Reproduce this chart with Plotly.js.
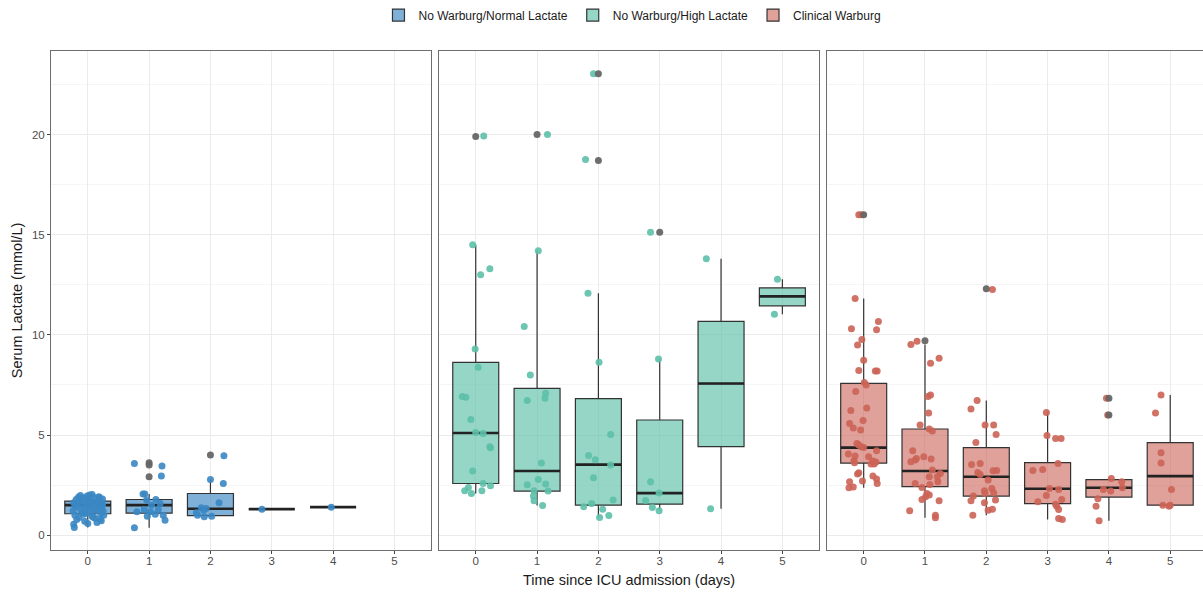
<!DOCTYPE html>
<html>
<head>
<meta charset="utf-8">
<script src="https://cdn.plot.ly/plotly-3.0.1.min.js"></script>
<style>
html, body { margin: 0; padding: 0; overflow: hidden; background: #fff; }
#chart { width: 1208px; height: 592px; }
</style>
</head>
<body>
<div id="chart"></div>
<script>
// ---------------- DATA ----------------
const groupNames = ["No Warburg/Normal Lactate", "No Warburg/High Lactate", "Clinical Warburg"];
const dayTicks = [0, 1, 2, 3, 4, 5];

// Box summaries
const normDays = [0, 1, 2, 3, 4];
const normQ1  = [1.07, 1.10, 0.98, 1.30, 1.40];
const normMed = [1.50, 1.50, 1.32, 1.30, 1.40];
const normQ3  = [1.70, 1.78, 2.08, 1.30, 1.40];
const normLo  = [0.38, 0.37, 0.92, 1.30, 1.40];
const normHi  = [2.03, 2.05, 2.78, 1.30, 1.40];

const highDays = [0, 1, 2, 3, 4, 5];
const highQ1  = [2.58, 2.20, 1.50, 1.55, 4.42, 11.45];
const highMed = [5.10, 3.20, 3.52, 2.10, 7.57, 11.92];
const highQ3  = [8.63, 7.33, 6.82, 5.75, 10.67, 12.35];
const highLo  = [2.08, 1.48, 0.88, 1.22, 1.32, 11.03];
const highHi  = [14.50, 14.20, 12.08, 8.80, 13.80, 12.78];

const warbDays = [0, 1, 2, 3, 4, 5];
const warbQ1  = [3.60, 2.42, 1.95, 1.58, 1.90, 1.50];
const warbMed = [4.37, 3.20, 2.92, 2.32, 2.37, 2.95];
const warbQ3  = [7.58, 5.30, 4.37, 3.62, 2.77, 4.62];
const warbLo  = [2.37, 0.87, 1.00, 0.78, 0.72, 1.45];
const warbHi  = [11.81, 9.52, 6.72, 6.13, 2.83, 7.00];

// Box-plot outliers: [day, value]
const normOutliers = [[1, 3.62], [1, 3.50], [1, 2.92], [2, 4.00]];
const highOutliers = [[0, 19.90], [1, 20.00], [2, 23.03], [2, 18.70], [3, 15.12]];
const warbOutliers = [[0, 16.00], [1, 9.70], [2, 12.30], [4, 6.83], [4, 6.00]];

// Jittered observations: [day, jitter, value]
const normPoints = [
  [0,-0.22,0.38],[0,-0.23,0.55],[0,-0.18,0.78],[0,-0.21,1.00],[0,-0.24,1.22],[0,-0.20,1.45],[0,-0.23,1.62],[0,-0.19,1.78],
  [0,-0.15,1.90],[0,-0.12,1.98],[0,-0.14,0.88],[0,-0.10,1.12],[0,-0.13,1.35],[0,-0.09,1.55],[0,-0.11,1.72],[0,-0.06,1.85],
  [0,-0.05,0.70],[0,-0.07,1.05],[0,-0.04,1.28],[0,-0.03,1.60],[0,-0.01,1.95],[0,0.00,0.58],[0,0.01,1.42],[0,0.02,1.75],
  [0,0.03,2.00],[0,0.05,1.15],[0,0.06,1.52],[0,0.07,0.95],[0,0.07,2.03],[0,0.09,1.62],[0,0.10,1.88],[0,0.11,1.30],
  [0,0.12,0.85],[0,0.14,1.68],[0,0.15,1.25],[0,0.15,0.63],[0,0.17,1.48],[0,0.18,1.92],[0,0.19,1.88],[0,0.20,0.80],
  [0,0.20,1.75],[0,0.21,1.08],[0,0.22,1.38],[0,0.23,1.58],[0,0.24,1.50],[0,0.25,1.20],[0,0.26,1.00],[0,0.24,1.80],
  [0,0.22,0.72],[0,-0.16,1.58],[0,-0.08,1.78],[0,0.04,1.68],[0,0.13,1.45],[0,-0.02,1.10],[0,0.09,0.90],
  [1,-0.24,3.58],[1,0.21,3.45],[1,0.20,2.95],[1,-0.10,2.05],[1,-0.07,2.05],[1,0.11,1.78],[1,-0.04,1.75],[1,-0.20,1.17],
  [1,0.18,1.58],[1,0.04,1.50],[1,-0.08,1.28],[1,0.02,1.17],[1,0.10,1.05],[1,-0.03,0.95],[1,0.23,1.00],[1,0.26,0.75],
  [1,-0.24,0.37],[1,0.15,1.28],
  [2,0.22,3.97],[2,0.00,2.78],[2,0.21,2.58],[2,0.14,1.62],[2,-0.15,1.37],[2,-0.11,1.25],[2,-0.23,1.12],[2,-0.21,1.00],
  [2,-0.10,0.92],[2,0.02,0.95],[2,-0.07,1.33],
  [3,-0.16,1.30],
  [4,-0.03,1.40]
];
const highPoints = [
  [0,0.13,19.93],[0,-0.05,14.50],[0,0.08,13.00],[0,0.23,13.30],[0,-0.01,9.30],[0,0.04,8.38],[0,-0.22,6.92],[0,-0.16,6.88],
  [0,-0.08,5.78],[0,0.00,5.13],[0,0.12,5.07],[0,0.23,4.42],[0,0.24,4.37],[0,-0.05,3.20],[0,0.12,2.58],[0,0.24,2.47],
  [0,-0.12,2.38],[0,-0.18,2.22],[0,-0.07,2.08],[0,0.10,2.22],
  [1,0.17,20.00],[1,0.02,14.20],[1,-0.21,10.42],[1,-0.11,8.00],[1,-0.16,6.72],[1,0.14,7.08],[1,0.13,6.83],[1,0.07,3.60],
  [1,0.02,2.78],[1,-0.16,2.52],[1,0.14,2.55],[1,-0.05,2.22],[1,0.18,2.20],[1,-0.06,1.95],[1,-0.05,1.72],[1,0.09,1.48],
  [2,-0.08,23.03],[2,-0.21,18.75],[2,-0.17,12.08],[2,0.01,8.63],[2,0.20,5.02],[2,-0.16,3.98],[2,-0.05,3.77],[2,0.20,3.50],
  [2,-0.08,2.87],[2,0.24,1.75],[2,-0.24,1.42],[2,-0.11,1.58],[2,0.07,1.30],[2,0.02,0.88],[2,0.17,0.98],
  [3,-0.15,15.12],[3,-0.02,8.80],[3,-0.15,2.67],[3,-0.01,2.10],[3,-0.23,1.73],[3,-0.12,1.38],[3,-0.01,1.22],
  [4,-0.24,13.80],[4,-0.17,1.32],
  [5,-0.08,12.78],[5,-0.13,11.03]
];
const warbPoints = [
  [0,-0.08,16.00],[0,-0.04,16.00],[0,-0.14,11.81],[0,0.24,10.67],[0,-0.20,10.30],[0,0.21,10.25],[0,-0.03,9.77],[0,-0.10,9.49],
  [0,0.00,8.73],[0,-0.08,8.22],[0,0.19,8.19],[0,0.22,8.19],[0,0.01,7.62],[0,0.04,7.50],[0,-0.13,7.17],[0,0.05,6.35],
  [0,-0.21,6.22],[0,-0.01,5.72],[0,-0.23,5.57],[0,-0.17,5.35],[0,-0.05,5.25],[0,-0.11,4.58],[0,-0.08,4.50],[0,-0.04,4.42],
  [0,0.00,4.38],[0,-0.25,4.05],[0,-0.14,3.95],[0,-0.16,3.72],[0,0.08,3.92],[0,0.21,4.22],[0,0.15,3.70],[0,0.20,3.65],
  [0,0.17,3.55],[0,-0.15,3.62],[0,0.12,3.55],[0,-0.08,3.12],[0,-0.10,3.05],[0,0.15,2.95],[0,0.21,2.80],[0,0.22,2.58],
  [0,-0.23,2.67],[0,-0.02,2.70],[0,-0.24,2.37],[0,-0.17,2.40],
  [1,-0.23,9.52],[1,-0.13,9.68],[1,0.09,8.58],[1,0.23,8.83],[1,0.09,7.00],[1,0.05,6.92],[1,0.06,6.10],[1,-0.08,5.50],
  [1,0.07,5.30],[1,0.12,5.20],[1,-0.20,4.22],[1,-0.23,3.67],[1,-0.14,3.83],[1,-0.16,3.75],[1,-0.02,3.92],[1,0.10,3.80],
  [1,0.12,3.25],[1,0.25,3.08],[1,0.07,2.92],[1,0.20,2.92],[1,0.21,2.67],[1,-0.16,2.58],[1,-0.05,2.38],[1,0.08,2.53],
  [1,0.03,2.08],[1,0.07,2.00],[1,0.01,1.92],[1,-0.05,1.78],[1,0.23,1.72],[1,-0.25,1.22],[1,0.17,1.00],[1,0.17,0.87],
  [2,0.10,12.27],[2,-0.15,6.72],[2,-0.25,6.30],[2,-0.02,5.50],[2,0.12,5.50],[2,0.16,5.03],[2,-0.17,4.63],[2,-0.24,3.53],
  [2,-0.10,3.58],[2,-0.14,3.13],[2,-0.10,3.03],[2,0.03,2.75],[2,0.11,3.22],[2,0.17,3.23],[2,-0.03,2.22],[2,0.09,2.33],
  [2,-0.02,2.08],[2,0.12,2.12],[2,-0.21,1.95],[2,-0.25,1.72],[2,0.15,1.75],[2,-0.03,1.62],[2,-0.22,1.00],[2,0.03,1.25],
  [2,0.10,1.30],
  [3,-0.02,6.13],[3,-0.01,4.97],[3,0.13,4.82],[3,0.22,4.82],[3,0.17,3.58],[3,-0.24,3.23],[3,-0.08,3.28],[3,0.03,2.33],
  [3,0.18,2.28],[3,-0.02,1.98],[3,0.23,1.78],[3,-0.16,1.67],[3,0.13,1.55],[3,0.15,1.45],[3,0.18,1.28],[3,0.18,0.83],
  [3,0.24,0.78],
  [4,-0.04,6.83],[4,-0.02,6.00],[4,0.04,2.83],[4,0.21,2.67],[4,0.22,2.37],[4,-0.09,2.28],[4,0.03,2.20],[4,-0.18,1.82],
  [4,-0.21,1.45],[4,-0.16,0.72],
  [5,-0.15,7.00],[5,-0.24,6.10],[5,-0.15,4.12],[5,-0.15,3.60],[5,0.02,2.28],[5,-0.12,1.50],[5,-0.02,1.45],[5,0.00,1.50]
];

// ---------------- STYLE ----------------
const pointColors = ["#3a87c3", "#5cc0a8", "#cc6357"];
const fillColors  = ["rgba(58,135,195,0.65)", "rgba(92,192,168,0.65)", "rgba(204,99,87,0.6)"];
const boxWidth = 0.75;
const axisNames = ["x", "x2", "x3"];
const yNames = ["y", "y2", "y3"];

const groups = [
  {days: normDays, q1: normQ1, med: normMed, q3: normQ3, lo: normLo, hi: normHi, out: normOutliers, pts: normPoints},
  {days: highDays, q1: highQ1, med: highMed, q3: highQ3, lo: highLo, hi: highHi, out: highOutliers, pts: highPoints},
  {days: warbDays, q1: warbQ1, med: warbMed, q3: warbQ3, lo: warbLo, hi: warbHi, out: warbOutliers, pts: warbPoints}
];

const boxTraces = [], medTraces = [], ptTraces = [], outTraces = [];
groups.forEach((g, i) => {
  boxTraces.push({
    type: "box", name: groupNames[i], xaxis: axisNames[i], yaxis: yNames[i],
    x: g.days, q1: g.q1, median: g.med, q3: g.q3, lowerfence: g.lo, upperfence: g.hi,
    width: boxWidth, whiskerwidth: 0, boxpoints: false,
    fillcolor: fillColors[i], line: {color: "#333333", width: 1.2},
    marker: {color: pointColors[i]}, hoverinfo: "skip", showlegend: true
  });
  const mx = [], my = [];
  g.days.forEach((d, k) => { mx.push(d - boxWidth / 2, d + boxWidth / 2, null); my.push(g.med[k], g.med[k], null); });
  medTraces.push({
    type: "scatter", mode: "lines", xaxis: axisNames[i], yaxis: yNames[i],
    x: mx, y: my, line: {color: "#222222", width: 2.6}, showlegend: false, hoverinfo: "skip"
  });
  ptTraces.push({
    type: "scatter", mode: "markers", xaxis: axisNames[i], yaxis: yNames[i],
    x: g.pts.map(p => p[0] + p[1]), y: g.pts.map(p => p[2]),
    marker: {color: pointColors[i], size: 7, opacity: 0.9}, showlegend: false, hoverinfo: "skip"
  });
  outTraces.push({
    type: "scatter", mode: "markers", xaxis: axisNames[i], yaxis: yNames[i],
    x: g.out.map(p => p[0]), y: g.out.map(p => p[1]),
    marker: {color: "#666666", size: 7, opacity: 0.95}, showlegend: false, hoverinfo: "skip"
  });
});

const data = [...boxTraces, ...medTraces, ...ptTraces, ...outTraces];

const fam = "Liberation Sans, Arial, sans-serif";
function xax(domain, yAnchor, withTitle) {
  const a = {
    domain: domain, range: [-0.6, 5.6], tickvals: dayTicks, ticktext: dayTicks.map(String),
    showgrid: true, gridcolor: "#ebebeb", gridwidth: 1, zeroline: false,
    showline: true, mirror: true, linecolor: "#6e6e6e", linewidth: 1,
    ticks: "outside", ticklen: 3, tickcolor: "#444", tickwidth: 1, ticklabelstandoff: -3,
    tickfont: {family: fam, size: 11.5, color: "#4d4d4d"},
    anchor: yAnchor, fixedrange: true
  };
  if (withTitle) a.title = {text: "Time since ICU admission (days)", font: {family: fam, size: 14.5, color: "#1a1a1a"}, standoff: 9};
  return a;
}
function yax(domainAnchor, withLabels) {
  const a = {
    range: [-0.74, 24.17], tickvals: [0, 5, 10, 15, 20],
    showgrid: true, gridcolor: "#ebebeb", gridwidth: 1, zeroline: false,
    minor: {dtick: 2.5, tick0: 0, showgrid: true, gridcolor: "#f3f3f3", gridwidth: 0.8},
    showline: true, mirror: true, linecolor: "#6e6e6e", linewidth: 1,
    anchor: domainAnchor, fixedrange: true
  };
  if (withLabels) {
    Object.assign(a, {
      ticks: "outside", ticklen: 3, tickcolor: "#444", tickwidth: 1,
      tickfont: {family: fam, size: 11.5, color: "#4d4d4d"},
      title: {text: "Serum Lactate (mmol/L)", font: {family: fam, size: 14.5, color: "#1a1a1a"}, standoff: 5}
    });
  } else {
    Object.assign(a, {showticklabels: false, ticks: "", matches: "y"});
  }
  return a;
}

const layout = {
  width: 1208, height: 592,
  margin: {l: 51, r: 1, t: 51, b: 42},
  paper_bgcolor: "#ffffff", plot_bgcolor: "#ffffff",
  font: {family: fam, color: "#1a1a1a"},
  showlegend: true,
  legend: {
    orientation: "h", x: 0.503, xanchor: "center", y: 1.072, yanchor: "middle",
    font: {family: fam, size: 12, color: "#1a1a1a"}, itemwidth: 30, tracegroupgap: 0
  },
  xaxis: xax([0, 0.3289], "y", false),
  xaxis2: xax([0.3356, 0.6645], "y2", true),
  xaxis3: xax([0.6712, 1], "y3", false),
  yaxis: yax("x", true),
  yaxis2: yax("x2", false),
  yaxis3: yax("x3", false),
  boxmode: "overlay"
};

Plotly.newPlot("chart", data, layout, {displayModeBar: false, staticPlot: true});
</script>
</body>
</html>
